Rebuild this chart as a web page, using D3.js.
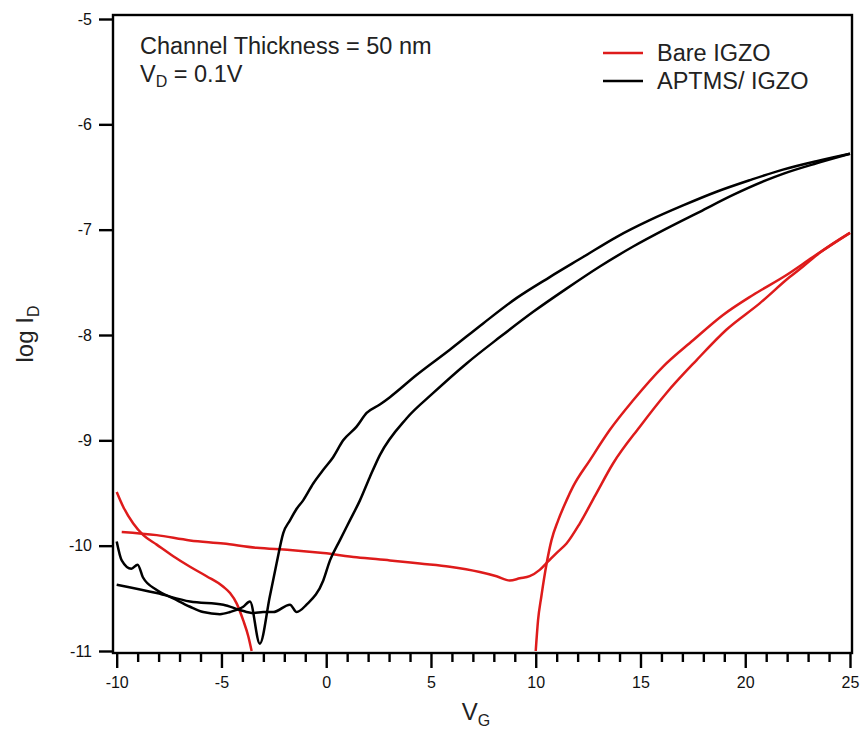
<!DOCTYPE html>
<html>
<head>
<meta charset="utf-8">
<script src="https://cdn.jsdelivr.net/npm/d3@7"></script>
<style>
  body { margin: 0; background: #fff; }
  svg { font-family: Arial, "Liberation Sans", sans-serif; }
</style>
</head>
<body>
<div id="chart"></div>
<script>
// Bare IGZO, forward sweep (null = below -11, off the plot)
const bareFwdV = [-10.0, -9.69, -9.21, -8.73, -8.09, -7.3, -6.5, -5.71, -4.91, -4.59, -4.27, -3.96, -3.72, -3.56,
  null,
  10.0, 10.11, 10.27, 10.52, 10.75, 11.07, 11.47, 11.78, 12.58, 13.54, 14.65, 16.08, 17.51, 18.94, 20.37, 21.97, 23.23, 25.0];
const bareFwdI = [-9.49, -9.63, -9.79, -9.9, -9.99, -10.1, -10.2, -10.29, -10.39, -10.45, -10.55, -10.71, -10.86, -11.0,
  null,
  -11.0, -10.71, -10.48, -10.17, -9.95, -9.76, -9.57, -9.44, -9.19, -8.9, -8.62, -8.3, -8.05, -7.81, -7.62, -7.43, -7.26, -7.03];

// Bare IGZO, reverse sweep
const bareRevV = [25.0, 23.55, 22.76, 22.12, 20.69, 19.1, 17.67, 16.24, 14.97, 13.69, 12.85, 12.1, 11.47, 10.99, 10.59, 10.19,
  9.71, 9.24, 8.76, 8.13, 7.33, 5.9, 4.47, 3.04, 1.45, -0.14, -1.73, -3.32, -4.91, -6.5, -8.09, -9.76];
const bareRevI = [-7.03, -7.22, -7.35, -7.45, -7.7, -7.95, -8.24, -8.55, -8.87, -9.22, -9.52, -9.79, -9.98, -10.07, -10.15, -10.23,
  -10.29, -10.31, -10.33, -10.29, -10.25, -10.2, -10.17, -10.14, -10.11, -10.07, -10.04, -10.02, -9.98, -9.95, -9.9, -9.87];

// APTMS/ IGZO, first sweep
const aptmsFwdV = [-10.0, -9.76, -9.3, -9.0, -8.75, -8.09, -7.3, -6.5, -5.87, -5.07, -4.59, -3.96, -3.64, -3.17, -2.69, -2.37,
  -2.05, -1.73, -1.41, -1.1, -0.62, -0.14, 0.33, 0.81, 1.45, 1.93, 2.56, 3.04, 4.31, 5.9, 7.49, 9.08, 10.67, 12.26, 13.85,
  15.44, 17.03, 18.63, 20.22, 21.8, 23.4, 25.0];
const aptmsFwdI = [-9.96, -10.14, -10.22, -10.18, -10.3, -10.42, -10.5, -10.58, -10.63, -10.65, -10.63, -10.58, -10.53, -10.93, -10.48, -10.17,
  -9.88, -9.76, -9.65, -9.57, -9.41, -9.28, -9.16, -9.0, -8.87, -8.74, -8.66, -8.59, -8.38, -8.14, -7.89, -7.65, -7.45, -7.26, -7.07,
  -6.91, -6.77, -6.64, -6.53, -6.43, -6.35, -6.28];

// APTMS/ IGZO, second sweep
const aptmsRevV = [-10.0, -8.09, -6.5, -4.91, -4.12, -3.48, -3.01, -2.53, -1.73, -1.41, -0.94, -0.14, 0.18, 0.65, 1.13, 1.61,
  2.08, 2.56, 3.84, 5.11, 6.7, 8.29, 9.88, 11.47, 13.06, 14.65, 16.24, 17.83, 19.42, 21.01, 21.8, 23.4, 25.0];
const aptmsRevI = [-10.37, -10.45, -10.53, -10.56, -10.61, -10.64, -10.63, -10.63, -10.56, -10.63, -10.56, -10.33, -10.14, -9.95, -9.76, -9.57,
  -9.35, -9.14, -8.79, -8.55, -8.27, -8.02, -7.78, -7.56, -7.35, -7.16, -6.99, -6.83, -6.67, -6.53, -6.47, -6.37, -6.28];

const xMajor = [-10, -5, 0, 5, 10, 15, 20, 25];
const yMajor = [-11, -10, -9, -8, -7, -6, -5];

const red = "#de1b1b";
const width = 863, height = 734;

const svg = d3.select("#chart").append("svg")
  .attr("width", width)
  .attr("height", height);

svg.append("rect").attr("width", width).attr("height", height).attr("fill", "#fff");

const x = d3.scaleLinear().domain([-10, 25]).range([116.7, 850]);
const y = d3.scaleLinear().domain([-11, -5]).range([651, 19]);

// frame (slightly outside the data range, Igor style)
svg.append("rect")
  .attr("x", 113).attr("y", 15)
  .attr("width", 852 - 113).attr("height", 653 - 15)
  .attr("fill", "none")
  .attr("stroke", "#000")
  .attr("stroke-width", 2.4);

// x axis: major + minor ticks
const xMinor = d3.range(-10, 25.5, 1).filter((v) => !xMajor.includes(v));
svg.append("g")
  .attr("transform", "translate(0,654)")
  .call(d3.axisBottom(x).tickValues(xMinor).tickSize(8).tickFormat(""))
  .call((g) => g.select(".domain").remove());

svg.append("g")
  .attr("class", "xaxis")
  .attr("transform", "translate(0,654)")
  .call(d3.axisBottom(x).tickValues(xMajor).tickSize(14).tickPadding(9).tickFormat(d3.format("d")))
  .call((g) => g.select(".domain").remove());

// y axis
svg.append("g")
  .attr("class", "yaxis")
  .attr("transform", "translate(113,0)")
  .call(d3.axisLeft(y).tickValues(yMajor).tickSize(14).tickPadding(7).tickFormat(d3.format("d")))
  .call((g) => g.select(".domain").remove());

svg.selectAll(".tick line").attr("stroke", "#000").attr("stroke-width", 2.4);
svg.selectAll(".tick text")
  .attr("fill", "#111")
  .style("font-size", "16px")
  .text(function () { return this.textContent.replace("\u2212", "-"); });

// curves
const line = d3.line()
  .defined((d) => d[0] !== null)
  .x((d) => x(d[0]))
  .y((d) => y(d[1]))
  .curve(d3.curveMonotoneX);

const series = [
  { v: bareFwdV, i: bareFwdI, color: red },
  { v: bareRevV, i: bareRevI, color: red },
  { v: aptmsFwdV, i: aptmsFwdI, color: "#000" },
  { v: aptmsRevV, i: aptmsRevI, color: "#000" },
];

series.forEach((s) => {
  svg.append("path")
    .datum(s.v.map((v, k) => [v, s.i[k]]))
    .attr("d", line)
    .attr("fill", "none")
    .attr("stroke", s.color)
    .attr("stroke-width", 2.5)
    .attr("stroke-linejoin", "round");
});

// annotation
svg.append("text")
  .attr("x", 140).attr("y", 54)
  .style("font-size", "23.5px")
  .attr("fill", "#222")
  .text("Channel Thickness = 50 nm");

const vd = svg.append("text")
  .attr("x", 140).attr("y", 82)
  .style("font-size", "23.5px")
  .attr("fill", "#222");
vd.append("tspan").text("V");
vd.append("tspan").attr("dy", 5).style("font-size", "16px").text("D");
vd.append("tspan").attr("dy", -5).text(" = 0.1V");

// legend
const legend = [
  { label: "Bare IGZO", color: red, y: 53 },
  { label: "APTMS/ IGZO", color: "#000", y: 81 },
];
legend.forEach((l) => {
  svg.append("line")
    .attr("x1", 603).attr("x2", 643)
    .attr("y1", l.y).attr("y2", l.y)
    .attr("stroke", l.color)
    .attr("stroke-width", 2.5);
  svg.append("text")
    .attr("x", 657).attr("y", l.y + 8)
    .style("font-size", "23.5px")
    .attr("fill", "#222")
    .text(l.label);
});

// axis titles
const xt = svg.append("text")
  .attr("x", 476).attr("y", 720)
  .attr("text-anchor", "middle")
  .style("font-size", "24px")
  .attr("fill", "#222");
xt.append("tspan").text("V");
xt.append("tspan").attr("dy", 6).style("font-size", "16px").text("G");

const yt = svg.append("text")
  .attr("transform", "translate(33,334) rotate(-90)")
  .attr("text-anchor", "middle")
  .style("font-size", "24px")
  .attr("fill", "#222");
yt.append("tspan").text("log I");
yt.append("tspan").attr("dy", 6).style("font-size", "16px").text("D");
</script>
</body>
</html>
